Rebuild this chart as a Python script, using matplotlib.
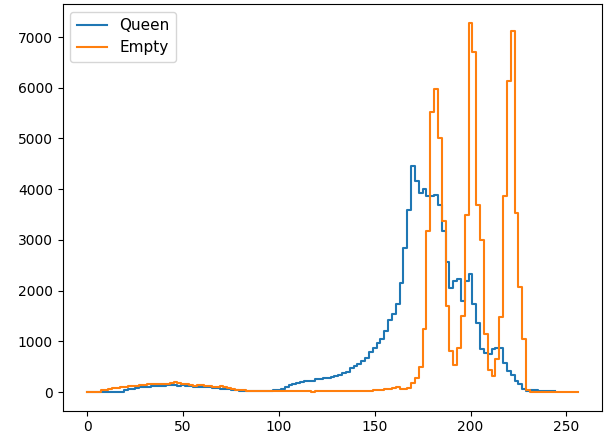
import numpy as np
import matplotlib
matplotlib.use("Agg")
import matplotlib.pyplot as plt

# bin positions (step 2) and counts
queen_x = np.arange(0, 245, 2)
queen_counts = [
    0, 0, 0, 0, 0, 5, 5, 5, 5, 5,                     # 0-18
    50, 55, 60, 85, 90, 95, 100, 110, 115, 120,       # 20-38
    125, 130, 130, 130, 125, 130, 125, 110, 105, 100, # 40-58
    95, 95, 90, 85, 70, 65, 60, 55, 45, 40,           # 60-78
    30, 25, 20, 15, 20, 25, 25, 25, 30, 35,           # 80-98
    40, 60, 90, 130, 160, 180, 190, 210, 215, 220,    # 100-118
    260, 265, 270, 280, 300, 310, 340, 370, 400, 470, # 120-138
    510, 560, 610, 680, 780, 870, 970, 1040, 1200, 1414,   # 140-158
    1532, 1730, 2156, 2846, 3583, 4450, 4162, 3920, 4000, 3860,  # 160-178
    3860, 3880, 3680, 3170, 2560, 2053, 2185, 2220, 1790, 2185,  # 180-198
    2320, 1730, 1365, 850, 770, 760, 850, 860, 870, 577,         # 200-218
    413, 335, 217, 157, 60, 20, 50, 50, 20, 20,                  # 220-238
    20, 20, 20,                                                  # 240-244
]

empty_x = np.arange(0, 257, 2)
empty_counts = [
    0, 0, 0, 0, 40, 50, 55, 80, 85, 90,               # 0-18
    105, 110, 125, 125, 130, 145, 150, 150, 150, 160, # 20-38
    165, 160, 175, 195, 185, 165, 150, 140, 120, 140, # 40-58
    135, 120, 110, 100, 95, 110, 105, 80, 60, 50,     # 60-78
    40, 35, 30, 30, 30, 30, 30, 30, 30, 30,           # 80-98
    25, 25, 25, 25, 25, 30, 30, 30, 30, 10,           # 100-118
    30, 30, 30, 30, 30, 30, 30, 30, 30, 30,           # 120-138
    30, 30, 30, 30, 20, 40, 45, 40, 60, 55,           # 140-158
    70, 100, 60, 60, 70, 183, 282, 493, 1237, 3175,   # 160-178
    5520, 5966, 5016, 3380, 1690, 800, 527, 877, 1500, 3490,   # 180-198
    7285, 6700, 3690, 2990, 1150, 430, 320, 650, 1480, 3860,   # 200-218
    6125, 7120, 3540, 2080, 1040, 40, 5, 5, 5, 5,              # 220-238
    5, 5, 5, 5, 5, 5, 5, 5, 5,                                 # 240-256
]

fig = plt.figure(figsize=(6.06, 4.37), dpi=100)
ax = fig.add_axes([0.1036, 0.0606, 0.994 - 0.1036, 0.9906 - 0.0606])
ax.step(queen_x, queen_counts, where="mid", label="Queen")
ax.step(empty_x, empty_counts, where="mid", label="Empty")
ax.legend(loc="upper left", fontsize=11)
fig.savefig("out.png", dpi=100)
